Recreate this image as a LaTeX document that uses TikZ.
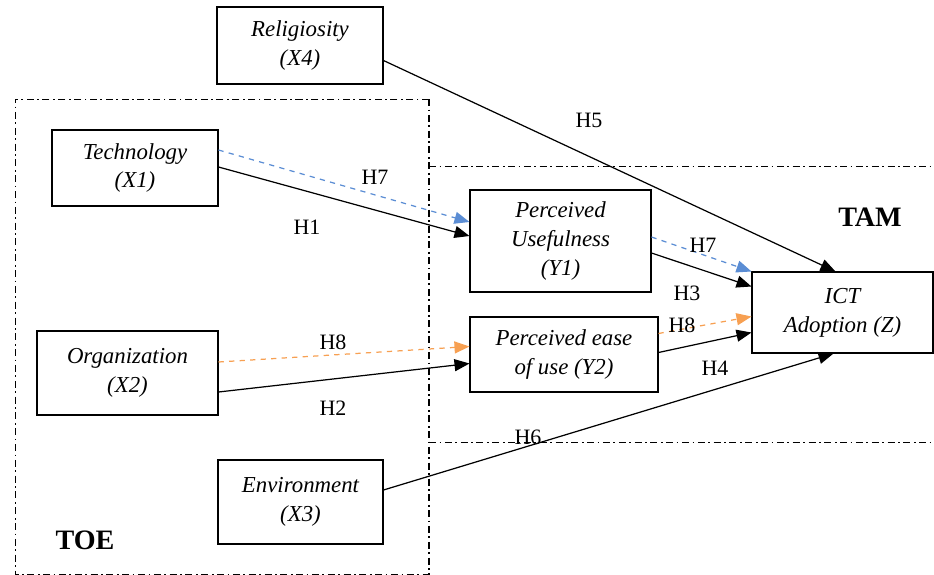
\documentclass[tikz,border=0pt]{standalone}
\usepackage{fontspec}
\setmainfont{Liberation Serif}
\usepackage{tikz}
\usepackage{xcolor}
\usetikzlibrary{arrows.meta,calc}

\definecolor{hblue}{RGB}{91,141,212}
\definecolor{horange}{RGB}{247,160,82}

\begin{document}
\begin{tikzpicture}[x=0.02cm,y=-0.02cm,
    varbox/.style={draw,line width=0.6pt,align=center,inner sep=1pt,
      font=\fontsize{13}{16.5}\selectfont\itshape},
    hyp/.style={font=\fontsize{12.5}{14}\selectfont},
    link/.style={->,line width=0.7pt},
    >={Triangle[length=3mm,width=2.4mm]}]
      \useasboundingbox (0,0) rectangle (934,575);
      % frames of the two models
      \draw [line width=0.5pt,dash pattern=on 4pt off 2pt on 1pt off 2pt] (429,99) -- (15,99) -- (15,574) -- (429,574);
      \draw [line width=1.2pt,dash pattern=on 4pt off 2pt on 1pt off 2pt] (429,99) -- (429,575);
      \draw [line width=0.5pt,dash pattern=on 4pt off 2pt on 1pt off 2pt] (429,166) -- (934,166);
      \draw [line width=0.5pt,dash pattern=on 4pt off 2pt on 1pt off 2pt] (429,442) -- (934,442);
      \node [font=\fontsize{16}{18}\selectfont\bfseries] (toe) at (85,540) {TOE};
      \node [font=\fontsize{16}{18}\selectfont\bfseries] (tam) at (870,217) {TAM};
      % variables
      \node [varbox,minimum width=3.32cm,minimum height=1.54cm] (rel) at (300,45.5) {Religiosity\\(X4)};
      \node [varbox,minimum width=3.32cm,minimum height=1.52cm] (tech) at (135,168) {Technology\\(X1)};
      \node [varbox,minimum width=3.62cm,minimum height=1.68cm] (org) at (127.5,373) {Organization\\(X2)};
      \node [varbox,minimum width=3.30cm,minimum height=1.68cm] (env) at (300.5,502) {Environment\\(X3)};
      \node [varbox,minimum width=3.62cm,minimum height=2.04cm] (pu) at (560.5,241) {Perceived\\Usefulness\\(Y1)};
      \node [varbox,minimum width=3.76cm,minimum height=1.50cm] (peu) at (564,354.5) {Perceived ease\\of use (Y2)};
      \node [varbox,minimum width=3.62cm,minimum height=1.62cm] (ict) at (842.5,312.5) {ICT\\Adoption (Z)};
      % hypotheses
      \draw [link,hblue,dashed] ($(tech.east)+(0,-18)$) -- ($(pu.west)+(0,-19)$);
      \draw [link] ($(tech.east)+(0,-1)$) -- ($(pu.west)+(0,-5)$);
      \draw [link,horange,dashed] ($(org.east)+(0,-11)$) -- ($(peu.west)+(0,-8)$);
      \draw [link] ($(org.east)+(0,19)$) -- ($(peu.west)+(0,9)$);
      \draw [link,hblue,dashed] ($(pu.east)+(0,-4)$) -- ($(ict.west)+(0,-41)$);
      \draw [link] ($(pu.east)+(0,12)$) -- ($(ict.west)+(0,-26)$);
      \draw [link,horange,dashed] ($(peu.east)+(0,-21)$) -- ($(ict.west)+(0,4)$);
      \draw [link] ($(peu.east)+(0,-2)$) -- ($(ict.west)+(0,20)$);
      \draw [link] ($(rel.east)+(0,15)$) -- ($(ict.north)+(-7,0)$);
      \draw [link] ($(env.east)+(0,-12)$) -- ($(ict.south)+(-9,0)$);
      \node [hyp] (h7a) at (375,177) {H7};
      \node [hyp] (h1) at (307,227) {H1};
      \node [hyp] (h8a) at (333,342) {H8};
      \node [hyp] (h2) at (333,408) {H2};
      \node [hyp] (h5) at (589,120) {H5};
      \node [hyp] (h7b) at (703,245) {H7};
      \node [hyp] (h3) at (687,293) {H3};
      \node [hyp] (h8b) at (682,325) {H8};
      \node [hyp] (h4) at (715,368) {H4};
      \node [hyp] (h6) at (528,437) {H6};
\end{tikzpicture}
\end{document}
